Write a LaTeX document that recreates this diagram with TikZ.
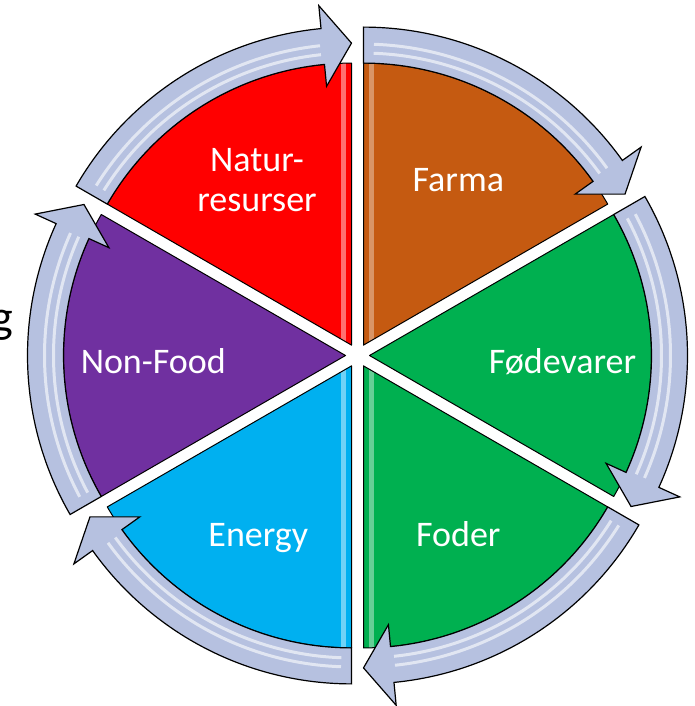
\documentclass[tikz,border=0pt]{standalone}
\usepackage{fontspec}
\setmainfont{Carlito}
\definecolor{cRed}{RGB}{255,0,0}
\definecolor{cFarma}{RGB}{197,90,17}
\definecolor{cGreen}{RGB}{0,176,80}
\definecolor{cBlue}{RGB}{0,176,240}
\definecolor{cPurple}{RGB}{112,48,160}
\definecolor{cBand}{RGB}{182,193,224}
\tikzset{
  wedgeshape/.style={draw=black, line width=1pt, line join=round},
  bandshape/.style={draw=black, line width=1.2pt, fill=cBand, line join=miter},
  shine/.style={draw=white, opacity=0.6, line width=3pt},
  bevel/.style={line width=5pt, opacity=0.8},
  lbl/.style={text=white, font=\fontsize{36}{40}\selectfont, inner sep=0pt},
}
% #1 start angle, #2 fill colour, #3 bevel colour, #4 bevel edge (0 none, 1 start, 2 end)
\newcommand\mysector[4]{%
  \pgfmathsetmacro\sA{#1}%
  \pgfmathsetmacro\eA{#1-60}%
  \pgfmathsetmacro\bA{#1-30}%
  \pgfmathsetmacro\nA{#1-54.5}%
  \pgfmathsetmacro\hA{#1-2}%
  \pgfmathsetmacro\kA{#1-54}%
  \begin{scope}[shift={(\bA:12pt)}]
    \fill[#2] (0,0) -- (\sA:282pt) arc[start angle=\sA, end angle=\eA, radius=282pt] -- cycle;
    \ifnum#4=1 \pgfmathsetmacro\tA{\sA}\pgfmathsetmacro\oA{\sA-90}\fi
    \ifnum#4=2 \pgfmathsetmacro\tA{\eA}\pgfmathsetmacro\oA{\eA+90}\fi
    \ifnum#4>0
      \begin{scope}
        \clip (0,0) -- (\sA:282pt) arc[start angle=\sA, end angle=\eA, radius=282pt] -- cycle;
        \draw[bevel, draw=#3] (\oA:8pt) -- ++(\tA:300pt);
      \end{scope}
    \fi
    \draw[wedgeshape] (0,0) -- (\sA:282pt) arc[start angle=\sA, end angle=\eA, radius=282pt] -- cycle;
    \draw[bandshape] (\sA:318pt) arc[start angle=\sA, end angle=\nA, radius=318pt]
      -- (\nA:341pt) -- (\eA:302pt) -- (\nA:260pt) -- (\nA:282pt)
      arc[start angle=\nA, end angle=\sA, radius=282pt] -- cycle;
    \draw[shine] (\hA:292pt) arc[start angle=\hA, end angle=\kA, radius=292pt];
    \draw[shine] (\hA:301pt) arc[start angle=\hA, end angle=\kA, radius=301pt];
  \end{scope}}
\begin{document}
\begin{tikzpicture}[x=1pt, y=1pt]
  \useasboundingbox (-357.5pt,-350.5pt) rectangle (336.5pt,355.5pt);
  \mysector{150}{cRed}{cRed!45!white}{2}
  \mysector{90}{cFarma}{cFarma!55!white}{1}
  \mysector{30}{cGreen}{cGreen}{0}
  \mysector{-30}{cGreen}{cGreen!50!white}{2}
  \mysector{270}{cBlue}{cBlue!45!white}{1}
  \mysector{210}{cPurple}{cPurple}{0}
  \node[lbl, align=center] (natur) at (-100.5pt,175.1pt) {Natur-\\resurser};
  \node[lbl, anchor=base] (farma) at (100.8pt,163.8pt) {Farma};
  \node[lbl, anchor=base] (fode) at (205pt,-18.5pt) {Fødevarer};
  \node[lbl, anchor=base] (nonfood) at (-204.2pt,-18.5pt) {Non-Food};
  \node[lbl, anchor=base] (energy) at (-99.2pt,-191.2pt) {Energy};
  \node[lbl, anchor=base] (foder) at (100.8pt,-191.2pt) {Foder};
  \node[anchor=base west, inner sep=0pt, font=\fontsize{46}{50}\selectfont] (gtxt) at (-366.5pt,22.5pt) {g};
\end{tikzpicture}
\end{document}
